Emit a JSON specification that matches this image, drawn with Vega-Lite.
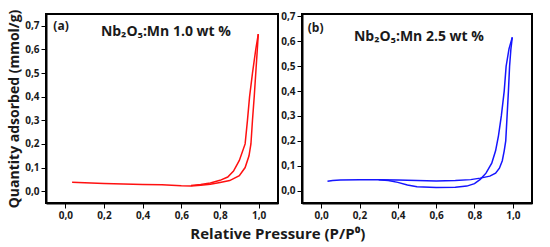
{
  "$schema": "https://vega.github.io/schema/vega-lite/v6.json",
  "padding": {"left": 6, "top": 8, "right": 5, "bottom": 5},
  "background": "white",
  "title": {"text": "Relative Pressure (P/P⁰)", "orient": "bottom", "anchor": "middle", "fontSize": 15, "font": "Open Sans", "fontWeight": "bold", "color": "#1a1a1a", "offset": 6, "dx": 8},
  "datasets": {
    "a": [
      {"branch": "ads", "i": 1, "p": 0.035, "q": 0.038},
      {"branch": "ads", "i": 2, "p": 0.1, "q": 0.036},
      {"branch": "ads", "i": 3, "p": 0.2, "q": 0.033},
      {"branch": "ads", "i": 4, "p": 0.3, "q": 0.03},
      {"branch": "ads", "i": 5, "p": 0.4, "q": 0.028},
      {"branch": "ads", "i": 6, "p": 0.5, "q": 0.027},
      {"branch": "ads", "i": 7, "p": 0.6, "q": 0.023},
      {"branch": "ads", "i": 8, "p": 0.65, "q": 0.022},
      {"branch": "ads", "i": 9, "p": 0.7, "q": 0.025},
      {"branch": "ads", "i": 10, "p": 0.75, "q": 0.029},
      {"branch": "ads", "i": 11, "p": 0.8, "q": 0.037},
      {"branch": "ads", "i": 12, "p": 0.85, "q": 0.045},
      {"branch": "ads", "i": 13, "p": 0.9, "q": 0.066},
      {"branch": "ads", "i": 14, "p": 0.93, "q": 0.1},
      {"branch": "ads", "i": 15, "p": 0.95, "q": 0.15},
      {"branch": "ads", "i": 16, "p": 0.96, "q": 0.2},
      {"branch": "ads", "i": 17, "p": 0.968, "q": 0.3},
      {"branch": "ads", "i": 18, "p": 0.977, "q": 0.4},
      {"branch": "ads", "i": 19, "p": 0.985, "q": 0.5},
      {"branch": "ads", "i": 20, "p": 0.993, "q": 0.6},
      {"branch": "ads", "i": 21, "p": 0.998, "q": 0.665},
      {"branch": "des", "i": 1, "p": 0.998, "q": 0.665},
      {"branch": "des", "i": 2, "p": 0.985, "q": 0.6},
      {"branch": "des", "i": 3, "p": 0.968, "q": 0.5},
      {"branch": "des", "i": 4, "p": 0.953, "q": 0.4},
      {"branch": "des", "i": 5, "p": 0.942, "q": 0.3},
      {"branch": "des", "i": 6, "p": 0.93, "q": 0.2},
      {"branch": "des", "i": 7, "p": 0.9, "q": 0.13},
      {"branch": "des", "i": 8, "p": 0.87, "q": 0.085},
      {"branch": "des", "i": 9, "p": 0.84, "q": 0.06},
      {"branch": "des", "i": 10, "p": 0.8, "q": 0.046},
      {"branch": "des", "i": 11, "p": 0.75, "q": 0.035},
      {"branch": "des", "i": 12, "p": 0.7, "q": 0.028},
      {"branch": "des", "i": 13, "p": 0.65, "q": 0.024}
    ],
    "b": [
      {"branch": "flat", "i": 1, "p": 0.033, "q": 0.037},
      {"branch": "flat", "i": 2, "p": 0.06, "q": 0.04},
      {"branch": "flat", "i": 3, "p": 0.1, "q": 0.042},
      {"branch": "flat", "i": 4, "p": 0.2, "q": 0.043},
      {"branch": "flat", "i": 5, "p": 0.3, "q": 0.043},
      {"branch": "flat", "i": 6, "p": 0.4, "q": 0.042},
      {"branch": "flat", "i": 7, "p": 0.5, "q": 0.04},
      {"branch": "flat", "i": 8, "p": 0.6, "q": 0.038},
      {"branch": "flat", "i": 9, "p": 0.7, "q": 0.04},
      {"branch": "flat", "i": 10, "p": 0.78, "q": 0.044},
      {"branch": "flat", "i": 11, "p": 0.83, "q": 0.05},
      {"branch": "flat", "i": 12, "p": 0.88, "q": 0.058},
      {"branch": "flat", "i": 13, "p": 0.91, "q": 0.07},
      {"branch": "flat", "i": 14, "p": 0.93, "q": 0.09},
      {"branch": "flat", "i": 15, "p": 0.945, "q": 0.12},
      {"branch": "flat", "i": 16, "p": 0.955, "q": 0.16},
      {"branch": "flat", "i": 17, "p": 0.963, "q": 0.2},
      {"branch": "flat", "i": 18, "p": 0.97, "q": 0.3},
      {"branch": "flat", "i": 19, "p": 0.977, "q": 0.4},
      {"branch": "flat", "i": 20, "p": 0.983, "q": 0.5},
      {"branch": "flat", "i": 21, "p": 0.99, "q": 0.57},
      {"branch": "flat", "i": 22, "p": 0.997, "q": 0.616},
      {"branch": "dip", "i": 1, "p": 0.3, "q": 0.043},
      {"branch": "dip", "i": 2, "p": 0.35, "q": 0.04},
      {"branch": "dip", "i": 3, "p": 0.4, "q": 0.033},
      {"branch": "dip", "i": 4, "p": 0.45, "q": 0.022},
      {"branch": "dip", "i": 5, "p": 0.5, "q": 0.015},
      {"branch": "dip", "i": 6, "p": 0.6, "q": 0.012},
      {"branch": "dip", "i": 7, "p": 0.7, "q": 0.013},
      {"branch": "dip", "i": 8, "p": 0.76, "q": 0.018},
      {"branch": "dip", "i": 9, "p": 0.8, "q": 0.028},
      {"branch": "dip", "i": 10, "p": 0.83, "q": 0.045},
      {"branch": "dip", "i": 11, "p": 0.86, "q": 0.07},
      {"branch": "dip", "i": 12, "p": 0.89, "q": 0.11},
      {"branch": "dip", "i": 13, "p": 0.91, "q": 0.16},
      {"branch": "dip", "i": 14, "p": 0.925, "q": 0.22},
      {"branch": "dip", "i": 15, "p": 0.94, "q": 0.3},
      {"branch": "dip", "i": 16, "p": 0.955, "q": 0.4},
      {"branch": "dip", "i": 17, "p": 0.965, "q": 0.5},
      {"branch": "dip", "i": 18, "p": 0.98, "q": 0.57},
      {"branch": "dip", "i": 19, "p": 0.997, "q": 0.616}
    ],
    "tagA": [{"p": -0.062, "q": 0.7, "t": "(a)"}],
    "nameA": [{"p": 0.52, "q": 0.674, "t": "Nb₂O₅:Mn 1.0 wt %"}],
    "tagB": [{"p": -0.07, "q": 0.653, "t": "(b)"}],
    "nameB": [{"p": 0.51, "q": 0.616, "t": "Nb₂O₅:Mn 2.5 wt %"}]
  },
  "spacing": 24,
  "bounds": "flush",
  "hconcat": [
    {
      "width": 232,
      "height": 189,
      "layer": [
        {
          "data": {"name": "a"},
          "mark": {"type": "line", "color": "#ff1010", "strokeWidth": 1.5},
          "encoding": {
            "x": {"field": "p", "type": "quantitative", "scale": {"domain": [-0.1, 1.1], "nice": false, "zero": false},
              "axis": {"title": null, "tickCount": 6, "format": ".1f", "labelOverlap": false, "ticks": true, "tickColor": "#000000", "tickOpacity": 1, "labelOpacity": 1, "tickSize": 5, "tickWidth": 1}},
            "y": {"field": "q", "type": "quantitative", "scale": {"domain": [-0.05, 0.75], "nice": false, "zero": false},
              "axis": {"title": "Quantity adsorbed (mmol/g)", "tickCount": 8, "format": ".1f", "labelOverlap": false, "ticks": true, "tickColor": "#000000", "tickOpacity": 1, "labelOpacity": 1, "tickSize": 5, "tickWidth": 1}},
            "detail": {"field": "branch"},
            "order": {"field": "i"}
          }
        },
        {
          "data": {"name": "tagA"},
          "mark": {"type": "text", "font": "Open Sans", "fontWeight": "bold", "color": "#1a1a1a", "baseline": "middle", "align": "left", "fontSize": 12},
          "encoding": {"x": {"field": "p", "type": "quantitative"}, "y": {"field": "q", "type": "quantitative"}, "text": {"field": "t"}}
        },
        {
          "data": {"name": "nameA"},
          "mark": {"type": "text", "font": "Open Sans", "fontWeight": "bold", "color": "#1a1a1a", "baseline": "middle", "align": "center", "fontSize": 14},
          "encoding": {"x": {"field": "p", "type": "quantitative"}, "y": {"field": "q", "type": "quantitative"}, "text": {"field": "t"}}
        }
      ]
    },
    {
      "width": 230,
      "height": 189,
      "layer": [
        {
          "data": {"name": "b"},
          "mark": {"type": "line", "color": "#1515ff", "strokeWidth": 1.5},
          "encoding": {
            "x": {"field": "p", "type": "quantitative", "scale": {"domain": [-0.1, 1.1], "nice": false, "zero": false},
              "axis": {"title": null, "tickCount": 6, "format": ".1f", "labelOverlap": false, "ticks": true, "tickColor": "#000000", "tickOpacity": 1, "labelOpacity": 1, "tickSize": 5, "tickWidth": 1}},
            "y": {"field": "q", "type": "quantitative", "scale": {"domain": [-0.05, 0.71], "nice": false, "zero": false},
              "axis": {"title": null, "tickCount": 8, "format": ".1f", "labelOverlap": false, "ticks": true, "tickColor": "#000000", "tickOpacity": 1, "labelOpacity": 1, "tickSize": 5, "tickWidth": 1}},
            "detail": {"field": "branch"},
            "order": {"field": "i"}
          }
        },
        {
          "data": {"name": "tagB"},
          "mark": {"type": "text", "font": "Open Sans", "fontWeight": "bold", "color": "#1a1a1a", "baseline": "middle", "align": "left", "fontSize": 12},
          "encoding": {"x": {"field": "p", "type": "quantitative"}, "y": {"field": "q", "type": "quantitative"}, "text": {"field": "t"}}
        },
        {
          "data": {"name": "nameB"},
          "mark": {"type": "text", "font": "Open Sans", "fontWeight": "bold", "color": "#1a1a1a", "baseline": "middle", "align": "center", "fontSize": 14},
          "encoding": {"x": {"field": "p", "type": "quantitative"}, "y": {"field": "q", "type": "quantitative"}, "text": {"field": "t"}}
        }
      ]
    }
  ],
  "config": {
    "locale": {"number": {"decimal": ",", "thousands": ".", "grouping": [3], "currency": ["", " €"]}},
    "view": {"stroke": "#000000", "strokeWidth": 2},
    "axis": {"domain": true, "domainColor": "#000000", "domainWidth": 2, "grid": false,
      "labelFont": "Open Sans", "labelFontWeight": "bold", "labelFontSize": 10, "labelColor": "#1a1a1a", "labelPadding": 2,
      "titleFont": "Open Sans", "titleFontWeight": "bold", "titleFontSize": 14, "titleColor": "#1a1a1a", "titlePadding": 3}
  }
}
